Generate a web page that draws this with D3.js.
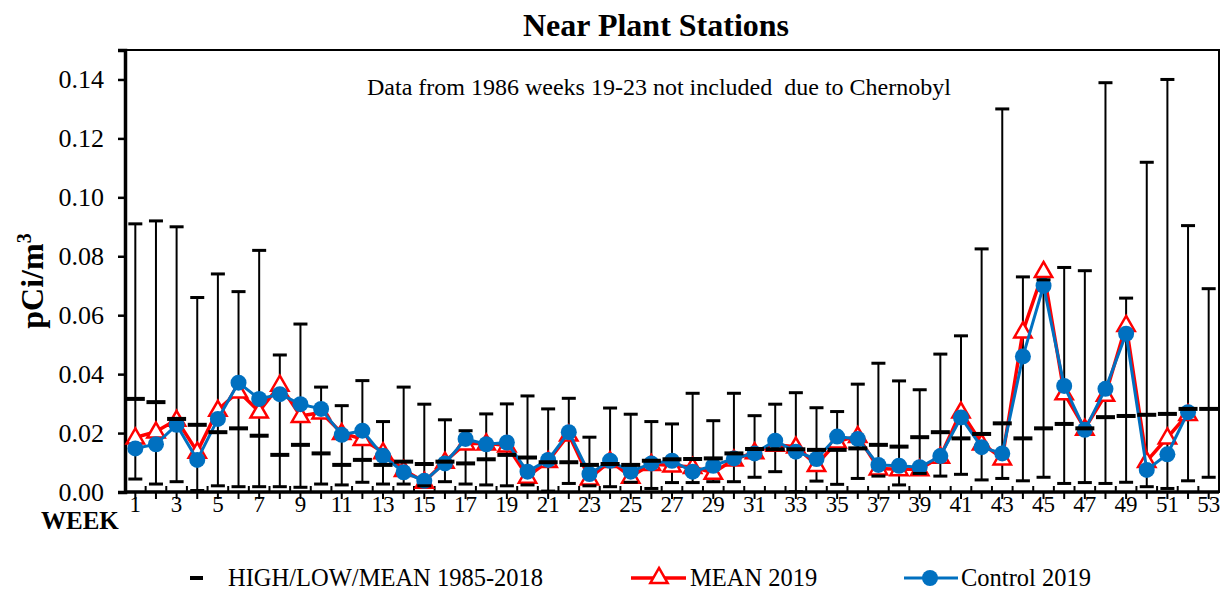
<!DOCTYPE html>
<html>
<head>
<meta charset="utf-8">
<script src="https://cdn.jsdelivr.net/npm/d3@7"></script>
<style>
  html, body { margin: 0; padding: 0; background: #fff; }
  svg { display: block; }
  text { font-family: "Liberation Serif", "Times New Roman", serif; fill: #000; }
</style>
</head>
<body>
<svg id="chart" width="1225" height="590"></svg>
<script>
// ---- data ----
const weeks = [1,2,3,4,5,6,7,8,9,10,11,12,13,14,15,16,17,18,19,20,21,22,23,24,25,26,27,28,29,30,31,32,33,34,35,36,37,38,39,40,41,42,43,44,45,46,47,48,49,50,51,52,53];
const weekLabels = [1,3,5,7,9,11,13,15,17,19,21,23,25,27,29,31,33,35,37,39,41,43,45,47,49,51,53];
const yTicks = [0,0.02,0.04,0.06,0.08,0.10,0.12,0.14];

const high1985_2018 = [0.091,0.092,0.090,0.066,0.074,0.068,0.082,0.0465,0.057,0.0356,
  0.0293,0.0378,0.0239,0.0356,0.0298,0.0245,0.0208,0.0265,0.0299,0.0326,
  0.0282,0.0318,0.0186,0.0285,0.0264,0.0239,0.0231,0.0335,0.0242,0.0335,
  0.0259,0.0298,0.0337,0.0286,0.0273,0.0366,0.0437,0.0377,0.0347,0.0468,
  0.053,0.0825,0.130,0.073,0.072,0.0762,0.0751,0.1389,0.0658,0.1119,
  0.140,0.0904,0.069];
const mean1985_2018 = [0.0316,0.0305,0.0248,0.0228,0.0203,0.0216,0.0191,0.0126,0.016,0.0131,
  0.0092,0.0109,0.0092,0.0103,0.0095,0.0103,0.0097,0.0111,0.0126,0.0117,
  0.0101,0.0101,0.0092,0.0095,0.0092,0.0106,0.0111,0.0112,0.0114,0.0131,
  0.0146,0.0145,0.0145,0.0143,0.0143,0.0148,0.016,0.0154,0.0186,0.0203,
  0.0182,0.0197,0.0233,0.0182,0.0216,0.0231,0.0216,0.0254,0.0258,0.0262,
  0.0265,0.0282,0.0282];
const low1985_2018 = [0.0044,0.0027,0.0035,0.0005,0.0021,0.0018,0.0018,0.0018,0.0016,0.0027,
  0.0024,0.0033,0.0027,0.0027,0.0021,0.0035,0.0027,0.0024,0.0021,0.0024,
  0.0003,0.0029,0.0021,0.0018,0.0033,0.0012,0.0032,0.0032,0.0035,0.0035,
  0.005,0.0069,0.0001,0.0037,0.0026,0.0046,0.0054,0.0024,0.0063,0.0054,
  0.006,0.0041,0.0046,0.0038,0.005,0.0029,0.0032,0.0029,0.0033,0.0018,
  0.0012,0.0038,0.005];
const mean2019 = [0.0185,0.0205,0.0245,0.0137,0.0279,0.0341,0.0273,0.0364,0.0258,0.027,
  0.020,0.018,0.0135,0.0075,0.0035,0.0103,0.0165,0.0165,0.0158,0.0052,
  0.0105,0.0195,0.0046,0.0105,0.0052,0.0095,0.009,0.0085,0.0065,0.011,
  0.0135,0.016,0.0154,0.0092,0.0171,0.019,0.008,0.0077,0.0077,0.012,
  0.0273,0.0165,0.0114,0.0545,0.075,0.0335,0.0215,0.033,0.0567,0.0105,
  0.0185,0.0265,null];
const control2019 = [0.0148,0.0162,0.0228,0.0109,0.0248,0.0371,0.0316,0.0332,0.0298,0.0282,
  0.0194,0.0208,0.0123,0.0067,0.0038,0.0097,0.018,0.0162,0.0168,0.0069,
  0.0109,0.0203,0.0061,0.0106,0.0069,0.0097,0.0106,0.0069,0.0089,0.0114,
  0.0131,0.0174,0.0137,0.0112,0.0188,0.018,0.0092,0.0089,0.0084,0.0122,
  0.0253,0.0152,0.0131,0.046,0.070,0.036,0.0211,0.035,0.0537,0.0075,
  0.0128,0.0271,null];

const titleText = "Near Plant Stations";
const noteText = "Data from 1986 weeks 19-23 not included  due to Chernobyl";
const legendLabels = ["HIGH/LOW/MEAN 1985-2018", "MEAN 2019", "Control 2019"];

// ---- layout ----
const svg = d3.select("#chart");
const plot = {left: 125, right: 1219, top: 50, bottom: 492};
const RED = "#FF0000", BLUE = "#0070C0";

const x = d3.scaleBand().domain(weeks).range([plot.left, plot.right]).padding(0);
const y = d3.scaleLinear().domain([0, 0.15]).range([plot.bottom, plot.top]);
const cx = w => x(w) + x.bandwidth() / 2;

// frame
svg.append("rect")
  .attr("x", plot.left).attr("y", plot.top)
  .attr("width", plot.right - plot.left).attr("height", plot.bottom - plot.top)
  .attr("fill", "none").attr("stroke", "#000").attr("stroke-width", 2);

// title
svg.append("text").attr("x", 656).attr("y", 36).attr("text-anchor", "middle")
  .style("font-size", "32px").style("font-weight", "bold").text(titleText);

// annotation
svg.append("text").attr("x", 367).attr("y", 95)
  .style("font-size", "24px").attr("xml:space", "preserve").text(noteText);

// y axis
const yAxis = svg.append("g").attr("transform", `translate(${plot.left},0)`)
  .call(d3.axisLeft(y).tickValues(yTicks).tickFormat(d3.format(".2f")).tickSize(7).tickPadding(14));
yAxis.select(".domain").attr("stroke-width", 3.5);
yAxis.selectAll(".tick line").attr("stroke-width", 2.5);
yAxis.selectAll(".tick text").style("font-size", "26px")
  .style("font-family", '"Liberation Serif", "Times New Roman", serif');

// y label
svg.append("text")
  .attr("transform", "translate(43,281) rotate(-90)")
  .attr("text-anchor", "middle")
  .style("font-size", "32px").style("font-weight", "bold")
  .html('pCi/m<tspan dy="-12" style="font-size:20px">3</tspan>');

// x axis line
svg.append("line").attr("x1", plot.left).attr("x2", plot.right)
  .attr("y1", plot.bottom).attr("y2", plot.bottom)
  .attr("stroke", "#000").attr("stroke-width", 3.5);
// center ticks (down)
svg.append("g").selectAll("line").data(weeks).join("line")
  .attr("x1", d => cx(d)).attr("x2", d => cx(d))
  .attr("y1", plot.bottom).attr("y2", plot.bottom + 7)
  .attr("stroke", "#000").attr("stroke-width", 2);
// boundary ticks (up)
svg.append("g").selectAll("line").data(weeks.slice(1)).join("line")
  .attr("x1", d => x(d)).attr("x2", d => x(d))
  .attr("y1", plot.bottom).attr("y2", plot.bottom - 6)
  .attr("stroke", "#000").attr("stroke-width", 2);
// x labels
svg.append("g").selectAll("text").data(weekLabels).join("text")
  .attr("x", d => cx(d)).attr("y", 512).attr("text-anchor", "middle")
  .style("font-size", "23px").text(d => d);
svg.append("text").attr("x", 41).attr("y", 529)
  .style("font-size", "25px").style("font-weight", "bold").text("WEEK");

// hi-low lines
const hl = weeks.map((w, i) => ({w, hi: high1985_2018[i], lo: low1985_2018[i], mean: mean1985_2018[i]}));
svg.append("g").selectAll("line").data(hl).join("line")
  .attr("x1", d => cx(d.w)).attr("x2", d => cx(d.w))
  .attr("y1", d => y(d.hi)).attr("y2", d => y(d.lo))
  .attr("stroke", "#000").attr("stroke-width", 2);

// MEAN 2019 line
const pts2019 = weeks.map((w, i) => ({w, v: mean2019[i]})).filter(d => d.v != null);
const ptsCtl = weeks.map((w, i) => ({w, v: control2019[i]})).filter(d => d.v != null);
const line = d3.line().x(d => cx(d.w)).y(d => y(d.v));

svg.append("path").datum(pts2019).attr("d", line)
  .attr("fill", "none").attr("stroke", RED).attr("stroke-width", 3.5).attr("stroke-linejoin", "round");
const tri = d3.symbol().type(d3.symbolTriangle).size(130);
svg.append("g").selectAll("path").data(pts2019).join("path")
  .attr("d", tri).attr("transform", d => `translate(${cx(d.w)},${y(d.v) + 1})`)
  .attr("fill", "#fff").attr("stroke", RED).attr("stroke-width", 2.5);

// Control 2019
svg.append("path").datum(ptsCtl).attr("d", line)
  .attr("fill", "none").attr("stroke", BLUE).attr("stroke-width", 3).attr("stroke-linejoin", "round");
svg.append("g").selectAll("circle").data(ptsCtl).join("circle")
  .attr("cx", d => cx(d.w)).attr("cy", d => y(d.v)).attr("r", 8)
  .attr("fill", BLUE);

// high / low caps and mean bars
const caps = svg.append("g");
caps.selectAll("rect.hi").data(hl).join("rect").attr("class", "hi")
  .attr("x", d => cx(d.w) - 7).attr("y", d => y(d.hi) - 1.5).attr("width", 14).attr("height", 3)
  .attr("fill", "#000");
caps.selectAll("rect.lo").data(hl).join("rect").attr("class", "lo")
  .attr("x", d => cx(d.w) - 7).attr("y", d => y(d.lo) - 1.5).attr("width", 14).attr("height", 3)
  .attr("fill", "#000");
caps.selectAll("rect.mean").data(hl).join("rect").attr("class", "mean")
  .attr("x", d => cx(d.w) - 9.5).attr("y", d => y(d.mean) - 2).attr("width", 19).attr("height", 4)
  .attr("fill", "#000");

// legend
const ly = 578;
const lg = svg.append("g");
lg.append("rect").attr("x", 190).attr("y", ly - 2).attr("width", 13).attr("height", 4).attr("fill", "#000");
lg.append("text").attr("x", 228).attr("y", ly + 8).style("font-size", "24.5px").text(legendLabels[0]);
lg.append("line").attr("x1", 631).attr("x2", 686).attr("y1", ly).attr("y2", ly)
  .attr("stroke", RED).attr("stroke-width", 3.5);
lg.append("path").attr("d", tri).attr("transform", `translate(659,${ly})`)
  .attr("fill", "#fff").attr("stroke", RED).attr("stroke-width", 2.5);
lg.append("text").attr("x", 690).attr("y", ly + 8).style("font-size", "24.5px").text(legendLabels[1]);
lg.append("line").attr("x1", 904).attr("x2", 958).attr("y1", ly).attr("y2", ly)
  .attr("stroke", BLUE).attr("stroke-width", 3);
lg.append("circle").attr("cx", 930).attr("cy", ly).attr("r", 8).attr("fill", BLUE);
lg.append("text").attr("x", 961).attr("y", ly + 8).style("font-size", "24.5px").text(legendLabels[2]);
</script>
</body>
</html>
